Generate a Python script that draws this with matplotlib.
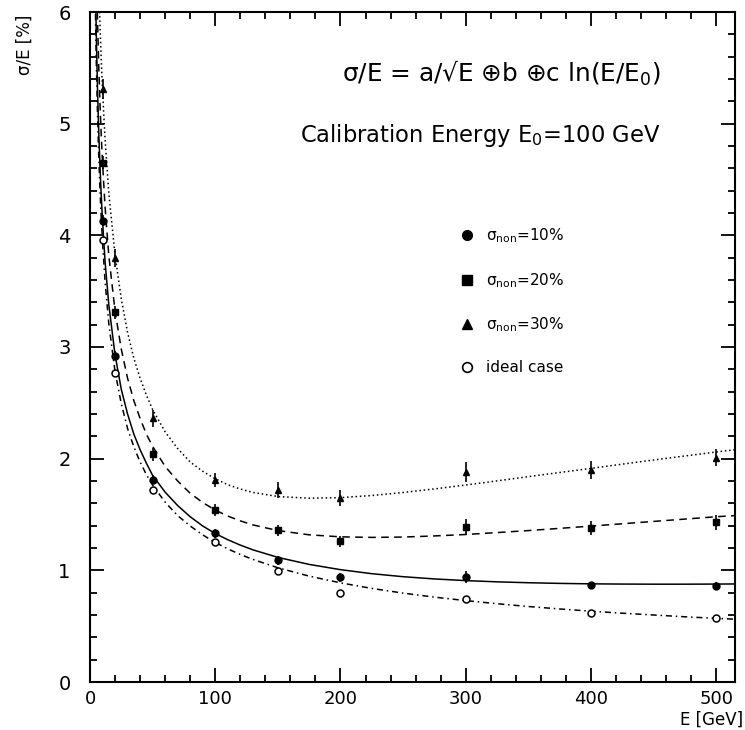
import matplotlib
matplotlib.use("Agg")
import matplotlib.pyplot as plt
from matplotlib.lines import Line2D
from matplotlib.ticker import MultipleLocator

# measured points
energy = [10, 20, 50, 100, 150, 200, 300, 400, 500]
res10 = [4.13, 2.92, 1.81, 1.33, 1.09, 0.94, 0.94, 0.87, 0.86]
res20 = [4.65, 3.31, 2.04, 1.54, 1.36, 1.26, 1.39, 1.38, 1.43]
res30 = [5.31, 3.80, 2.36, 1.81, 1.72, 1.65, 1.88, 1.90, 2.01]
ideal = [3.96, 2.77, 1.72, 1.25, 0.99, 0.80, 0.74, 0.62, 0.57]
err10 = [0.05, 0.04, 0.04, 0.04, 0.04, 0.04, 0.05, 0.03, 0.04]
err20 = [0.06, 0.06, 0.06, 0.05, 0.05, 0.05, 0.07, 0.06, 0.07]
err30 = [0.09, 0.08, 0.08, 0.06, 0.07, 0.07, 0.09, 0.08, 0.08]

# fitted curves
e_fit = [4, 5, 6, 7, 8, 9, 10, 12, 15, 20,
         25, 30, 35, 40, 45, 50, 60, 70, 80, 90,
         100, 110, 120, 130, 150, 175, 200, 225, 250, 275,
         300, 325, 350, 375, 400, 425, 450, 475, 500, 515]
fit10 = [6.49, 5.81, 5.31, 4.92, 4.61, 4.35, 4.13, 3.77, 3.38, 2.93,
         2.62, 2.40, 2.22, 2.08, 1.96, 1.85, 1.70, 1.58, 1.48, 1.397,
         1.33, 1.274, 1.226, 1.184, 1.116, 1.053, 1.006, 0.970, 0.943, 0.923,
         0.908, 0.897, 0.889, 0.883, 0.879, 0.877, 0.876, 0.876, 0.877, 0.878]
fit20 = [7.19, 6.47, 5.93, 5.51, 5.17, 4.89, 4.65, 4.26, 3.82, 3.32,
         2.98, 2.72, 2.52, 2.36, 2.22, 2.11, 1.93, 1.80, 1.69, 1.607,
         1.54, 1.486, 1.443, 1.407, 1.356, 1.318, 1.30, 1.295, 1.298, 1.308,
         1.321, 1.338, 1.356, 1.376, 1.396, 1.417, 1.438, 1.459, 1.48, 1.49]
fit30 = [8.1, 7.3, 6.72, 6.26, 5.88, 5.57, 5.30, 4.87, 4.38, 3.82,
         3.43, 3.13, 2.90, 2.72, 2.57, 2.44, 2.24, 2.09, 1.97, 1.887,
         1.82, 1.767, 1.728, 1.698, 1.661, 1.646, 1.651, 1.670, 1.697, 1.729,
         1.764, 1.801, 1.839, 1.876, 1.913, 1.951, 1.988, 2.024, 2.06, 2.08]
fit_ideal = [6.22, 5.56, 5.08, 4.70, 4.40, 4.15, 3.94, 3.59, 3.21, 2.78,
             2.49, 2.27, 2.106, 1.97, 1.858, 1.763, 1.61, 1.49, 1.397, 1.317,
             1.25, 1.192, 1.142, 1.098, 1.023, 0.948, 0.888, 0.838, 0.796, 0.760,
             0.729, 0.701, 0.676, 0.654, 0.634, 0.616, 0.600, 0.584, 0.570, 0.562]

labels = [r'σ$_{\rm non}$=10%', r'σ$_{\rm non}$=20%',
          r'σ$_{\rm non}$=30%', 'ideal case']

fig = plt.figure(figsize=(7.45, 7.3), dpi=100)
ax = fig.add_axes([90 / 745, 48 / 730, 645 / 745, 670 / 730])

lw = 1.1
ax.plot(e_fit, fit10, color='black', lw=lw, linestyle='-')
ax.plot(e_fit, fit20, color='black', lw=lw, linestyle=(0, (5, 3.5)))
ax.plot(e_fit, fit30, color='black', lw=lw, linestyle=(0, (1, 1.8)))
ax.plot(e_fit, fit_ideal, color='black', lw=lw, linestyle=(0, (4, 2.5, 1, 2.5)))

ms = 5
ax.errorbar(energy, res10, yerr=err10, fmt='o', color='black', ms=ms, elinewidth=1.2, capsize=0)
ax.errorbar(energy, res20, yerr=err20, fmt='s', color='black', ms=ms, elinewidth=1.2, capsize=0)
ax.errorbar(energy, res30, yerr=err30, fmt='^', color='black', ms=ms, elinewidth=1.2, capsize=0)
ax.plot(energy, ideal, 'o', mfc='white', mec='black', ms=ms, mew=1.1)

ax.set_xlim(0, 515)
ax.set_ylim(0, 6)
ax.xaxis.set_major_locator(MultipleLocator(100))
ax.xaxis.set_minor_locator(MultipleLocator(20))
ax.yaxis.set_major_locator(MultipleLocator(1))
ax.yaxis.set_minor_locator(MultipleLocator(0.2))
ax.tick_params(which='both', direction='in', top=True, right=True, width=1.3)
ax.tick_params(which='major', length=10)
ax.tick_params(which='minor', length=5)
ax.tick_params(axis='x', labelsize=13, pad=6)
ax.tick_params(axis='y', labelsize=14, pad=14)
for s in ax.spines.values():
    s.set_linewidth(1.5)

handles = [
    Line2D([], [], marker='o', ls='none', color='black', ms=7),
    Line2D([], [], marker='s', ls='none', color='black', ms=6.5),
    Line2D([], [], marker='^', ls='none', color='black', ms=7),
    Line2D([], [], marker='o', ls='none', mfc='white', mec='black', mew=1.2, ms=7),
]
ax.legend(handles, labels, loc='upper left', bbox_to_anchor=(0.572, 0.68),
          frameon=False, fontsize=11, handlelength=1.0, handletextpad=0.8,
          labelspacing=1.7, borderpad=0, borderaxespad=0)

ax.text(0.885, 0.909, 'σ/E = a/√E ⊕b ⊕c ln(E/E$_0$)',
        transform=ax.transAxes, ha='right', va='center', fontsize=17.8)
ax.text(0.885, 0.816, 'Calibration Energy E$_0$=100 GeV',
        transform=ax.transAxes, ha='right', va='center', fontsize=16.3)

fig.text(25 / 745, 1 - 45 / 730, 'σ/E [%]', rotation=90,
         ha='center', va='center', fontsize=12)
fig.text(743 / 745, 1 - 720 / 730, 'E [GeV]', ha='right', va='center', fontsize=12)

fig.savefig('out.png', dpi=100)
